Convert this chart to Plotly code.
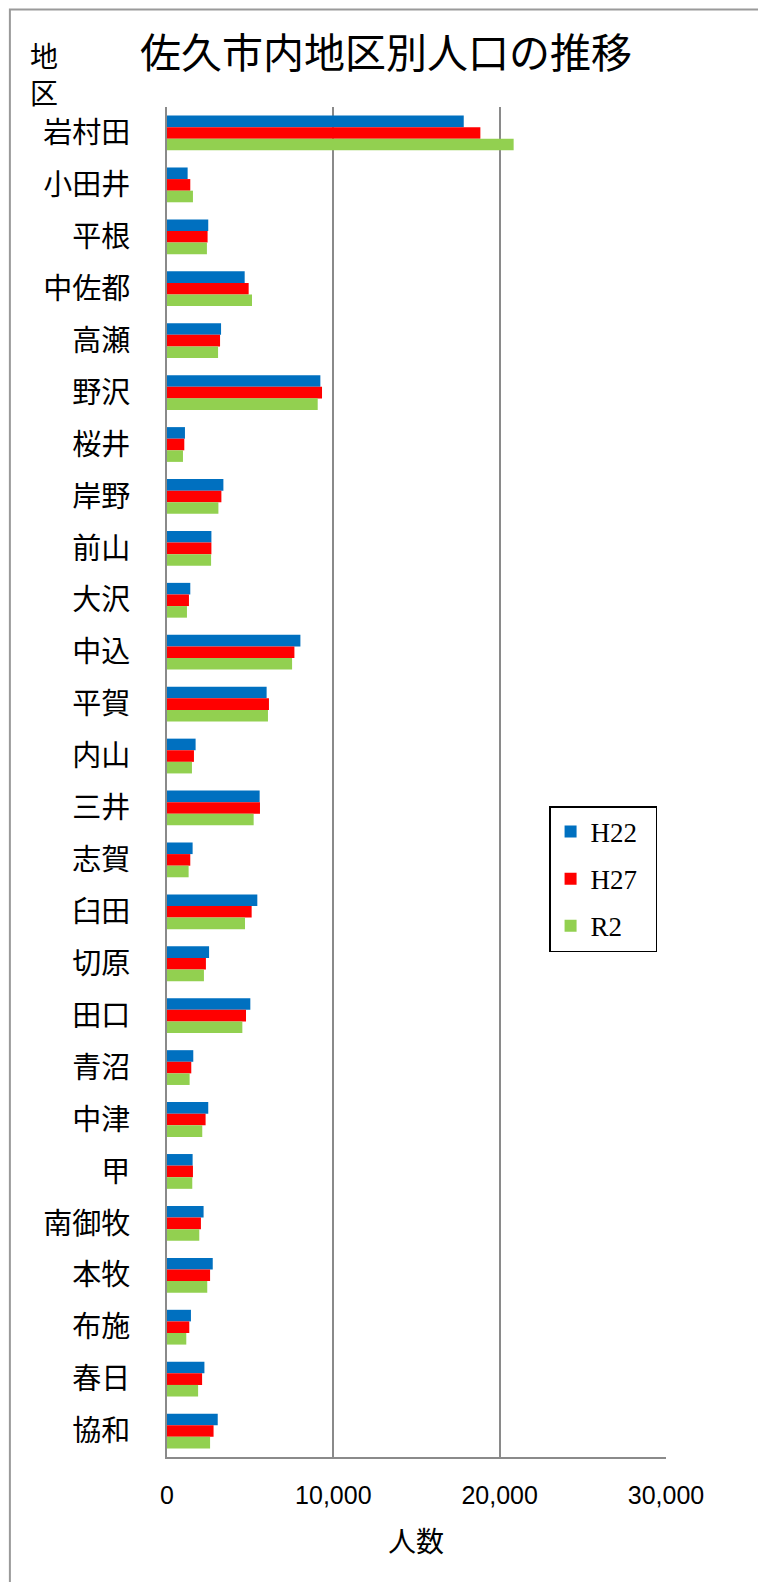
import plotly.graph_objects as go

districts = ["岩村田", "小田井", "平根", "中佐都", "高瀬", "野沢", "桜井", "岸野", "前山", "大沢",
             "中込", "平賀", "内山", "三井", "志賀", "臼田", "切原", "田口", "青沼", "中津",
             "甲", "南御牧", "本牧", "布施", "春日", "協和"]

h22 = [17840, 1240, 2480, 4670, 3250, 9220, 1080, 3390, 2670, 1400,
       8020, 5990, 1720, 5570, 1540, 5430, 2530, 5010, 1580, 2480,
       1540, 2200, 2750, 1440, 2250, 3050]
h27 = [18840, 1400, 2440, 4910, 3190, 9320, 1040, 3270, 2670, 1320,
       7660, 6130, 1620, 5590, 1400, 5090, 2340, 4750, 1460, 2320,
       1560, 2040, 2590, 1340, 2110, 2800]
r2 = [20840, 1560, 2400, 5110, 3070, 9060, 960, 3090, 2650, 1200,
      7520, 6070, 1500, 5210, 1300, 4690, 2220, 4530, 1360, 2120,
      1520, 1940, 2420, 1160, 1870, 2590]

series_names = ["H22", "H27", "R2"]
series_values = [h22, h27, r2]
series_colors = ["#0070C0", "#FF0000", "#92D050"]

x_tickvals = [0, 10000, 20000, 30000]
x_ticktext = ["0", "10,000", "20,000", "30,000"]

title_text = "佐久市内地区別人口の推移"
y_title_chars = ["地", "区"]
x_title_text = "人数"

CJK = "Noto Sans CJK JP"
GRID = "#8a8a8a"

# page body has an 8px margin: figure coords = screen coords - 8
OFF = 8
PL, PR, PT, PB = 166.7, 666.0, 107.0, 1457.0   # plot area on screen
W, H = 766, 1582
ml = PL - OFF
mt = PT - OFF
mr = W - ml - (PR - PL)
mb = H - mt - (PB - PT)


def px(sx):
    return (sx - PL) / (PR - PL)


def py(sy):
    return (PB - sy) / (PB - PT)


fig = go.Figure()
for name, vals, col in zip(series_names, series_values, series_colors):
    fig.add_trace(go.Bar(
        y=districts, x=vals, name=name + "\u00a0\u00a0", orientation="h",
        marker=dict(color=col, line=dict(width=0)),
        legendgroup=name,
    ))

fig.update_layout(
    width=W, height=H,
    margin=dict(l=ml, r=mr, t=mt, b=mb, autoexpand=False),
    paper_bgcolor="white", plot_bgcolor="white",
    barmode="group", bargap=0.33, bargroupgap=0,
    showlegend=True,
    legend=dict(
        x=px(549), y=py(806), xanchor="left", yanchor="top",
        bordercolor="black", borderwidth=1.5, bgcolor="white",
        font=dict(family="Liberation Serif", size=27, color="black"),
        tracegroupgap=9, itemwidth=30,
    ),
    font=dict(family=CJK, color="black"),
)

fig.update_xaxes(
    range=[0, 30000], tickvals=x_tickvals, ticktext=x_ticktext,
    showgrid=True, gridcolor=GRID, gridwidth=2,
    showline=True, linecolor=GRID, linewidth=2,
    zeroline=False, ticks="", ticklabelstandoff=15, automargin=False,
    tickfont=dict(family="Liberation Sans", size=25, color="black"),
)
fig.update_yaxes(
    autorange="reversed", type="category",
    showgrid=False, showline=True, linecolor=GRID, linewidth=2,
    zeroline=False, ticks="outside", ticklen=29, tickcolor="rgba(0,0,0,0)",
    automargin=False,
    tickfont=dict(family=CJK, size=29, color="black"),
)

fig.add_annotation(text=title_text, xref="paper", yref="paper",
                   x=px(386), y=py(50), xanchor="center", yanchor="middle",
                   showarrow=False, font=dict(family=CJK, size=41, color="black"))
for ch, sy in zip(y_title_chars, [55, 92]):
    fig.add_annotation(text=ch, xref="paper", yref="paper",
                       x=px(44), y=py(sy), xanchor="center", yanchor="middle",
                       showarrow=False, font=dict(family=CJK, size=28, color="black"))
fig.add_annotation(text=x_title_text, xref="paper", yref="paper",
                   x=px(416), y=py(1540), xanchor="center", yanchor="middle",
                   showarrow=False, font=dict(family=CJK, size=28, color="black"))

# outer chart-area border (left, top, right)
fig.add_shape(type="rect", xref="paper", yref="paper",
              x0=px(9.5), x1=px(760), y0=py(1620), y1=py(9.5),
              line=dict(color="#9a9a9a", width=2), fillcolor="rgba(0,0,0,0)", layer="below")

fig.write_html("out.html")
